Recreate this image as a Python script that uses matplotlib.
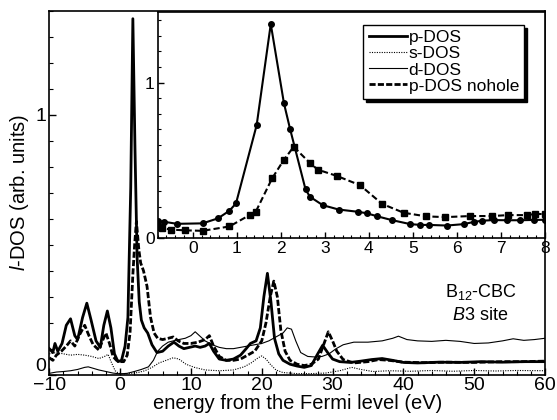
import matplotlib
matplotlib.use("Agg")
import matplotlib.pyplot as plt
from matplotlib.ticker import MultipleLocator, FixedLocator

plt.rcParams['font.family'] = ['Liberation Sans', 'DejaVu Sans']
plt.rcParams['mathtext.fontset'] = 'custom'
plt.rcParams['mathtext.rm'] = 'Liberation Sans'
plt.rcParams['mathtext.it'] = 'Liberation Sans:italic'

# ---------------- main panel data ----------------
p_E = [-10, -9.5, -9.2, -8.8, -8.2, -7.6, -7.0, -6.4, -6.0, -5.3, -4.7, -4.1, -3.4, -2.8, -2.3,
       -1.8, -1.3, -0.8, -0.3, 0.2, 0.7, 1.1, 1.5, 1.8, 2.1, 2.4, 2.7, 3.0, 3.4, 3.9, 4.5, 5.2,
       6.0, 6.8, 7.6, 8.3, 9.0, 9.8, 10.6, 11.3, 12.0, 12.6, 13.2, 14.0, 15.0, 16.0, 17.0, 17.8,
       18.4, 19.2, 19.8, 20.3, 20.8, 21.3, 21.8, 22.4, 23.0, 24.0, 25.0, 26.0, 27.0, 27.8, 28.6,
       29.3, 30.0, 31.0, 32.5, 34.0, 35.5, 37.0, 38.5, 40.0, 42.0, 45, 48, 51, 54, 57, 60]
p_dos = [0.10, 0.085, 0.12, 0.09, 0.12, 0.19, 0.215, 0.15, 0.135, 0.22, 0.275, 0.21, 0.13, 0.105,
         0.19, 0.245, 0.18, 0.08, 0.05, 0.055, 0.11, 0.22, 0.72, 1.37, 0.87, 0.45, 0.28, 0.21,
         0.18, 0.16, 0.115, 0.085, 0.09, 0.11, 0.125, 0.11, 0.10, 0.105, 0.11, 0.105, 0.11, 0.12,
         0.09, 0.06, 0.055, 0.06, 0.075, 0.10, 0.12, 0.13, 0.18, 0.30, 0.39, 0.28, 0.14, 0.08,
         0.055, 0.04, 0.033, 0.028, 0.035, 0.075, 0.113, 0.085, 0.06, 0.05, 0.047, 0.052, 0.058,
         0.062, 0.055, 0.047, 0.045, 0.048, 0.047, 0.05, 0.048, 0.05, 0.05]

n_E = [-10, -9.5, -9, -8.3, -7.6, -7.0, -6.4, -5.8, -5.0, -4.4, -3.8, -3.0, -2.5, -2.0, -1.5,
       -1.0, -0.5, 0, 0.5, 1.0, 1.4, 1.8, 2.05, 2.3, 2.65, 2.9, 3.3, 3.8, 4.3, 4.8, 5.3, 6.0,
       6.8, 7.5, 8.2, 9.0, 10, 11, 12, 12.6, 13.2, 14, 15, 16, 17, 18, 19, 20, 20.6, 21.2, 21.7,
       22.2, 22.7, 23.3, 24, 25, 26, 27, 28, 28.8, 29.4, 30, 30.6, 31.5, 33, 35, 36.5, 38, 40,
       43, 46, 50, 54, 57, 60]
nohole_dos = [0.065, 0.055, 0.075, 0.09, 0.11, 0.13, 0.11, 0.15, 0.19, 0.15, 0.115, 0.095, 0.13,
              0.16, 0.12, 0.07, 0.055, 0.05, 0.05, 0.075, 0.16, 0.385, 0.50, 0.59, 0.48, 0.43,
              0.40, 0.34, 0.22, 0.16, 0.14, 0.135, 0.14, 0.145, 0.13, 0.12, 0.12, 0.125, 0.135,
              0.15, 0.11, 0.07, 0.055, 0.055, 0.06, 0.075, 0.09, 0.13, 0.20, 0.30, 0.36, 0.30,
              0.17, 0.09, 0.055, 0.04, 0.035, 0.04, 0.06, 0.12, 0.165, 0.13, 0.09, 0.058, 0.045,
              0.05, 0.058, 0.055, 0.048, 0.046, 0.048, 0.047, 0.05, 0.05, 0.052]

s_E = [-10, -9, -8, -7, -6, -5, -4, -3, -2.2, -1.7, -1.2, -0.7, -0.2, 0.5, 1.5, 2.5, 3.5, 4.5,
       5.5, 6.5, 7.5, 8.3, 9.3, 10.5, 12, 14, 16, 17.5, 18.5, 19.5, 20, 20.6, 21.2, 22, 23, 25,
       27, 29, 31, 32.7, 34, 35.7, 38, 41, 44, 47, 50, 53, 56, 60]
s_dos = [0.08, 0.085, 0.08, 0.075, 0.078, 0.075, 0.07, 0.062, 0.07, 0.078, 0.045, 0.015, 0.005,
         0.003, 0.005, 0.008, 0.015, 0.028, 0.045, 0.055, 0.065, 0.06, 0.04, 0.028, 0.018, 0.015,
         0.018, 0.03, 0.045, 0.065, 0.072, 0.06, 0.04, 0.018, 0.008, 0.004, 0.004, 0.006, 0.015,
         0.028, 0.02, 0.012, 0.015, 0.013, 0.016, 0.013, 0.016, 0.014, 0.016, 0.015]

d_E = [-10, -9, -8, -7, -6, -5, -4.5, -4, -3, -2, -1, 0, 1, 2, 3, 4, 4.7, 5.3, 6, 6.8, 7.5, 8.3,
       9.2, 10, 10.6, 11.2, 12, 13, 14, 15, 16, 17, 18, 19, 20, 21, 22, 23, 23.6, 24.2, 24.8,
       25.5, 26.5, 27.5, 28.5, 29.5, 30.5, 31.5, 33, 35, 37, 38.5, 39.3, 40.5, 42, 44, 46, 48,
       50, 52, 54, 55.5, 57, 58.5, 60]
d_dos = [0.005, 0.01, 0.012, 0.015, 0.02, 0.028, 0.03, 0.026, 0.018, 0.012, 0.006, 0.003, 0.005,
         0.012, 0.02, 0.03, 0.055, 0.09, 0.11, 0.125, 0.13, 0.135, 0.14, 0.15, 0.165, 0.15, 0.13,
         0.115, 0.105, 0.10, 0.10, 0.105, 0.11, 0.115, 0.12, 0.13, 0.145, 0.16, 0.18, 0.175,
         0.13, 0.085, 0.07, 0.068, 0.07, 0.08, 0.10, 0.115, 0.125, 0.125, 0.13, 0.14, 0.148,
         0.135, 0.13, 0.128, 0.132, 0.128, 0.12, 0.122, 0.13, 0.138, 0.132, 0.135, 0.14]

# ---------------- inset data ----------------
ip_E = [-0.8, -0.65, -0.36, 0.22, 0.57, 0.83, 0.98, 1.45, 1.77, 2.07, 2.21, 2.56, 2.66, 2.95,
        3.31, 3.76, 3.95, 4.18, 4.52, 4.94, 5.17, 5.36, 5.77, 6.15, 6.38, 6.57, 6.83, 7.13,
        7.43, 7.74, 8.0]
ip_dos = [0.11, 0.105, 0.092, 0.095, 0.127, 0.176, 0.223, 0.727, 1.376, 0.866, 0.70, 0.313,
          0.266, 0.212, 0.184, 0.169, 0.16, 0.141, 0.116, 0.09, 0.085, 0.085, 0.081, 0.09,
          0.104, 0.112, 0.116, 0.115, 0.115, 0.117, 0.118]
in_E = [-0.8, -0.7, -0.5, -0.17, 0.22, 0.83, 1.3, 1.43, 1.8, 2.06, 2.29, 2.67, 2.84, 3.27,
        3.8, 4.3, 4.79, 5.3, 5.73, 6.3, 6.79, 7.16, 7.58, 7.77, 8.0]
in_dos = [0.07, 0.065, 0.055, 0.05, 0.047, 0.075, 0.15, 0.17, 0.384, 0.50, 0.587, 0.48, 0.44,
          0.40, 0.34, 0.22, 0.163, 0.14, 0.135, 0.142, 0.142, 0.148, 0.148, 0.155, 0.155]

fig = plt.figure(figsize=(5.57, 4.2), dpi=100)
ax = fig.add_axes([0.0885, 0.108, 0.89, 0.866])

ax.plot(p_E, p_dos, color='black', lw=2.0, label='p-DOS')
ax.plot(s_E, s_dos, color='black', lw=0.8, ls=(0, (1, 1.2)), label='s-DOS')
ax.plot(d_E, d_dos, color='black', lw=0.8, label='d-DOS')
ax.plot(n_E, nohole_dos, color='black', lw=2.0, ls=(0, (2.2, 0.8)), label='p-DOS nohole')

ax.set_xlim(-10, 60)
ax.set_ylim(0, 1.4)
ax.xaxis.set_major_locator(MultipleLocator(10))
ax.xaxis.set_minor_locator(MultipleLocator(2))
ax.yaxis.set_major_locator(FixedLocator([0, 1]))
ax.yaxis.set_minor_locator(MultipleLocator(0.1))
ax.tick_params(which='both', direction='in', top=False, right=False, labelsize=14)
ax.tick_params(axis='x', pad=2)
ax.tick_params(axis='y', pad=2)
ax.tick_params(which='major', length=5, width=1)
ax.tick_params(which='minor', length=3, width=0.8)
for sp in ax.spines.values():
    sp.set_linewidth(1.2)
ax.set_xlabel('energy from the Fermi level (eV)', fontsize=14.5, labelpad=0)
ax.set_ylabel(r'$\mathit{l}$-DOS (arb. units)', fontsize=14.5, labelpad=3)
# lift the "0" y tick label a little so it sits above the "-10" x label, as in the reference
ax.yaxis.get_major_ticks()[0].label1.set_verticalalignment('bottom')

ax.text(50.9, 0.318, r'B$_{12}$-CBC', fontsize=13, ha='center', va='center')
ax.text(50.9, 0.228, r'$\mathit{B3}$ site', fontsize=13, ha='center', va='center')

# inset
ins = fig.add_axes([0.283, 0.433, 0.6955, 0.539])
ins.plot(ip_E, ip_dos, color='black', lw=1.5, marker='o', ms=4)
ins.plot(in_E, in_dos, color='black', lw=1.5, ls=(0, (3, 1.5)), marker='s', ms=4.5)
ins.set_xlim(-0.8, 8)
ins.set_ylim(0, 1.455)
ins.xaxis.set_major_locator(MultipleLocator(1))
ins.xaxis.set_minor_locator(MultipleLocator(0.2))
ins.yaxis.set_major_locator(FixedLocator([0, 1]))
ins.yaxis.set_minor_locator(MultipleLocator(0.1))
ins.tick_params(which='both', direction='in', top=False, right=False, labelsize=12.5, pad=2)
ins.tick_params(which='major', length=4, width=1)
ins.tick_params(which='minor', length=2.5, width=0.8)
for sp in ins.spines.values():
    sp.set_linewidth(1.2)

h, l = ax.get_legend_handles_labels()
leg = ins.legend(h, l, loc='upper right', bbox_to_anchor=(0.946, 0.941), borderaxespad=0,
                 fontsize=12.5, handlelength=2.2, handletextpad=0.1, labelspacing=0.05,
                 borderpad=0.3, fancybox=False, frameon=True,
                 shadow={'color': 'black', 'alpha': 1.0})
leg.get_frame().set_edgecolor('black')
leg.get_frame().set_linewidth(1.0)

fig.savefig('out.png', dpi=100)
